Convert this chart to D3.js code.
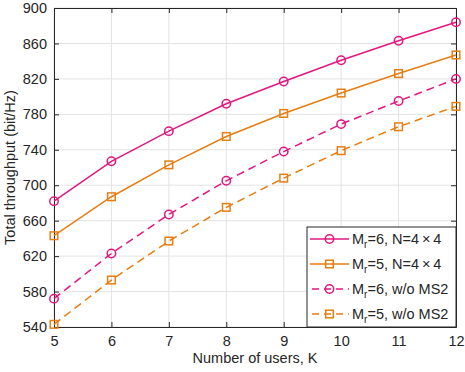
<!DOCTYPE html>
<html><head><meta charset="utf-8">
<script src="https://cdn.jsdelivr.net/npm/d3@7"></script>
<style>body{margin:0;background:#fff}svg{display:block}text{font-family:"Liberation Sans",Arial,sans-serif}</style>
</head><body>
<svg id="c" width="465" height="372"></svg>
<script>
const users = [5,6,7,8,9,10,11,12];
const mr6_n44 = [682,727,761,792,817,841,863,884];
const mr5_n44 = [643,687,723,755,781,804,826,847];
const mr6_noMS2 = [572,623,667,705,738,769,795,820];
const mr5_noMS2 = [543,593,637,675,708,739,766,789];
const yTicks = [540,580,620,660,700,740,780,820,860,900];
const xTicks = [5,6,7,8,9,10,11,12];
const magenta = "#e3177e", orange = "#e67e12";
const series = [
  {sub:"r", pre:"M", post:"=6, N=4\u2009\u00d7\u20094", vals:mr6_n44, color:magenta, marker:"circle", dash:null},
  {sub:"r", pre:"M", post:"=5, N=4\u2009\u00d7\u20094", vals:mr5_n44, color:orange, marker:"square", dash:null},
  {sub:"r", pre:"M", post:"=6, w/o MS2", vals:mr6_noMS2, color:magenta, marker:"circle", dash:"8,5"},
  {sub:"r", pre:"M", post:"=5, w/o MS2", vals:mr5_noMS2, color:orange, marker:"square", dash:"8,5"}
];
const L=54, R=456, T=8, B=327;
const svg = d3.select("#c");
const x = d3.scaleLinear().domain([5,12]).range([L,R]);
const y = d3.scaleLinear().domain([540,900]).range([B,T]);
// grid
const g = svg.append("g");
g.selectAll(".gx").data(xTicks).join("line").attr("x1",d=>x(d)).attr("x2",d=>x(d)).attr("y1",T).attr("y2",B).attr("stroke","#e3e3e3").attr("stroke-width",1);
g.selectAll(".gy").data(yTicks).join("line").attr("y1",d=>y(d)).attr("y2",d=>y(d)).attr("x1",L).attr("x2",R).attr("stroke","#e3e3e3").attr("stroke-width",1);
// axes
const ax = svg.append("g").attr("transform",`translate(0,${B})`).call(d3.axisBottom(x).tickValues(xTicks).tickFormat(d3.format("d")).tickSize(-5).tickSizeOuter(0).tickPadding(9));
const ay = svg.append("g").attr("transform",`translate(${L},0)`).call(d3.axisLeft(y).tickValues(yTicks).tickFormat(d3.format("d")).tickSize(-5).tickSizeOuter(0).tickPadding(7));
const axT = svg.append("g").attr("transform",`translate(0,${T})`).call(d3.axisTop(x).tickValues(xTicks).tickSize(-5).tickSizeOuter(0).tickFormat(""));
const ayR = svg.append("g").attr("transform",`translate(${R},0)`).call(d3.axisRight(y).tickValues(yTicks).tickSize(-5).tickSizeOuter(0).tickFormat(""));
[ax,ay,axT,ayR].forEach(a=>{a.select(".domain").attr("stroke","#262626").attr("stroke-width",1);a.selectAll(".tick line").attr("stroke","#262626");a.selectAll("text").attr("font-size",14.5).attr("fill","#262626").attr("font-family","Liberation Sans, Arial, sans-serif");});
// lines
const line = d3.line().x((d,i)=>x(users[i])).y(d=>y(d));
series.forEach(s=>{
  const p = svg.append("path").attr("d",line(s.vals)).attr("fill","none").attr("stroke",s.color).attr("stroke-width",1.5);
  if(s.dash) p.attr("stroke-dasharray",s.dash);
  const mg = svg.append("g");
  s.vals.forEach((v,i)=>drawMarker(mg,s,x(users[i]),y(v)));
});
function drawMarker(gp,s,cx,cy){
  if(s.marker==="circle") gp.append("circle").attr("cx",cx).attr("cy",cy).attr("r",4.2).attr("fill","none").attr("stroke",s.color).attr("stroke-width",1.5);
  else gp.append("rect").attr("x",cx-3.8).attr("y",cy-3.8).attr("width",7.6).attr("height",7.6).attr("fill","none").attr("stroke",s.color).attr("stroke-width",1.5);
}
// legend
const lg = svg.append("g");
lg.append("rect").attr("x",307).attr("y",227).attr("width",R-307).attr("height",B-227).attr("fill","#fff").attr("stroke","#262626").attr("stroke-width",1);
series.forEach((s,i)=>{
  const ly = 239 + i*25;
  const l = lg.append("line").attr("x1",310).attr("x2",349).attr("y1",ly).attr("y2",ly).attr("stroke",s.color).attr("stroke-width",1.5);
  if(s.dash) l.attr("stroke-dasharray","7,5").attr("stroke-dashoffset",-2);
  drawMarker(lg,s,329.5,ly);
  const t = lg.append("text").attr("x",352).attr("y",ly+5).attr("font-size",14.5).attr("fill","#262626");
  t.append("tspan").text(s.pre);
  t.append("tspan").attr("font-size",10).attr("dy",4).text(s.sub);
  t.append("tspan").attr("dy",-4).text(s.post);
});
// axis labels
svg.append("text").attr("x",(L+R)/2).attr("y",363).attr("text-anchor","middle").attr("font-size",14.5).attr("fill","#262626").text("Number of users, K");
svg.append("text").attr("transform",`translate(15,${(T+B)/2}) rotate(-90)`).attr("text-anchor","middle").attr("font-size",14.5).attr("fill","#262626").text("Total throughput (bit/Hz)");
</script>
</body></html>
